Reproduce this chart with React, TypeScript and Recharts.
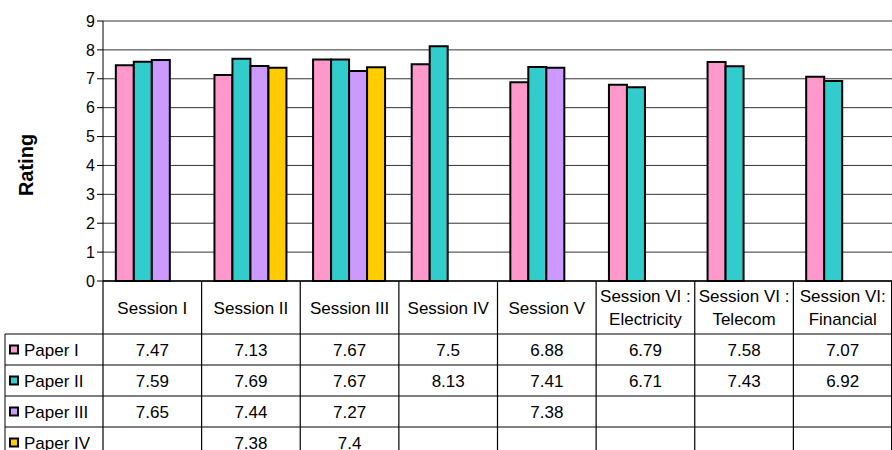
import React from 'react';
import { BarChart, Bar, XAxis, YAxis, CartesianGrid } from 'recharts';

const sessions = [
  'Session I',
  'Session II',
  'Session III',
  'Session IV',
  'Session V',
  'Session VI :\nElectricity',
  'Session VI :\nTelecom',
  'Session VI:\nFinancial',
];

const paperI = [7.47, 7.13, 7.67, 7.5, 6.88, 6.79, 7.58, 7.07];
const paperII = [7.59, 7.69, 7.67, 8.13, 7.41, 6.71, 7.43, 6.92];
const paperIII = [7.65, 7.44, 7.27, null, 7.38, null, null, null];
const paperIV = [null, 7.38, 7.4, null, null, null, null, null];

const ratingTicks = [0, 1, 2, 3, 4, 5, 6, 7, 8, 9];

const series = [
  { key: 'paperI', name: 'Paper I', values: paperI, color: '#FF99CC' },
  { key: 'paperII', name: 'Paper II', values: paperII, color: '#33CCCC' },
  { key: 'paperIII', name: 'Paper III', values: paperIII, color: '#CC99FF' },
  { key: 'paperIV', name: 'Paper IV', values: paperIV, color: '#FFCC00' },
];

const data = sessions.map((session, i) => {
  const row: Record<string, any> = { session };
  series.forEach((s) => {
    row[s.key] = s.values[i];
  });
  return row;
});

const WIDTH = 892;
const HEIGHT = 450;
const AXIS_W = 103;
const COL_W = (WIDTH - AXIS_W) / sessions.length;
const HEADER_H = 53;
const ROW_H = 31;
const FONT = '"Liberation Sans", Arial, sans-serif';

// each x-axis tick draws its own column of the data table underneath the plot
const TableColumn = (props: any) => {
  const { x, y, payload, index } = props;
  const left = x - COL_W / 2;
  const right = x + COL_W / 2;
  const top = y;
  const lines = String(payload.value).split('\n');
  const headerMid = top + HEADER_H / 2;

  return (
    <g fontFamily={FONT} fontSize={17} fill="#000">
      <line x1={left} x2={left} y1={top} y2={HEIGHT} stroke="#000" strokeWidth={1.2} />
      {index === sessions.length - 1 && (
        <line x1={right - 0.5} x2={right - 0.5} y1={top} y2={HEIGHT} stroke="#000" />
      )}
      {lines.map((line, k) => (
        <text
          key={k}
          x={x}
          y={headerMid + 6 + (k - (lines.length - 1) / 2) * 23}
          textAnchor="middle"
        >
          {line}
        </text>
      ))}
      {series.map((s, r) => {
        const rowTop = top + HEADER_H + r * ROW_H;
        const v = s.values[index];
        return (
          <g key={s.key}>
            <line x1={left} x2={right} y1={rowTop} y2={rowTop} stroke="#000" />
            {v != null && (
              <text x={x} y={rowTop + ROW_H / 2 + 6} textAnchor="middle">
                {v}
              </text>
            )}
          </g>
        );
      })}
      {index === 0 && (
        <g>
          <line x1={5} x2={5} y1={top + HEADER_H} y2={HEIGHT} stroke="#000" />
          {series.map((s, r) => {
            const rowTop = top + HEADER_H + r * ROW_H;
            const mid = rowTop + ROW_H / 2;
            return (
              <g key={s.key}>
                <line x1={5} x2={left} y1={rowTop} y2={rowTop} stroke="#000" />
                <rect x={10} y={mid - 4} width={8} height={8} fill={s.color} stroke="#000" strokeWidth={2} />
                <text x={24} y={mid + 6}>
                  {s.name}
                </text>
              </g>
            );
          })}
        </g>
      )}
    </g>
  );
};

export default function App() {
  return (
    <div style={{ position: 'absolute', left: 0, top: 0, width: WIDTH, height: HEIGHT, background: '#fff' }}>
      <BarChart
        width={WIDTH}
        height={HEIGHT}
        data={data}
        margin={{ top: 21, right: 0, bottom: 0, left: 0 }}
        barGap={0}
        barCategoryGap="13%"
        style={{ fontFamily: FONT }}
      >
        <CartesianGrid vertical={false} stroke="#111" strokeOpacity={0.85} />
        <XAxis
          dataKey="session"
          height={HEIGHT - 281}
          interval={0}
          tickLine={false}
          tickSize={0}
          tickMargin={0}
          axisLine={{ stroke: '#000', strokeWidth: 1.5 }}
          tick={<TableColumn />}
        />
        <YAxis
          width={AXIS_W}
          domain={[0, 9]}
          ticks={ratingTicks}
          interval={0}
          tickSize={6}
          tickMargin={2}
          axisLine={{ stroke: '#000' }}
          tickLine={{ stroke: '#000' }}
          tick={{ fill: '#000', fontSize: 16, fontFamily: FONT }}
          label={{
            content: () => (
              <text
                x={33}
                y={165}
                transform="rotate(-90 33 165)"
                textAnchor="middle"
                fontFamily={FONT}
                fontWeight="bold"
                fontSize={20}
                fill="#000"
              >
                Rating
              </text>
            ),
          }}
        />
        {series.map((s) => (
          <Bar
            key={s.key}
            dataKey={s.key}
            name={s.name}
            fill={s.color}
            stroke="#000"
            strokeWidth={2}
            isAnimationActive={false}
          />
        ))}
      </BarChart>
    </div>
  );
}
